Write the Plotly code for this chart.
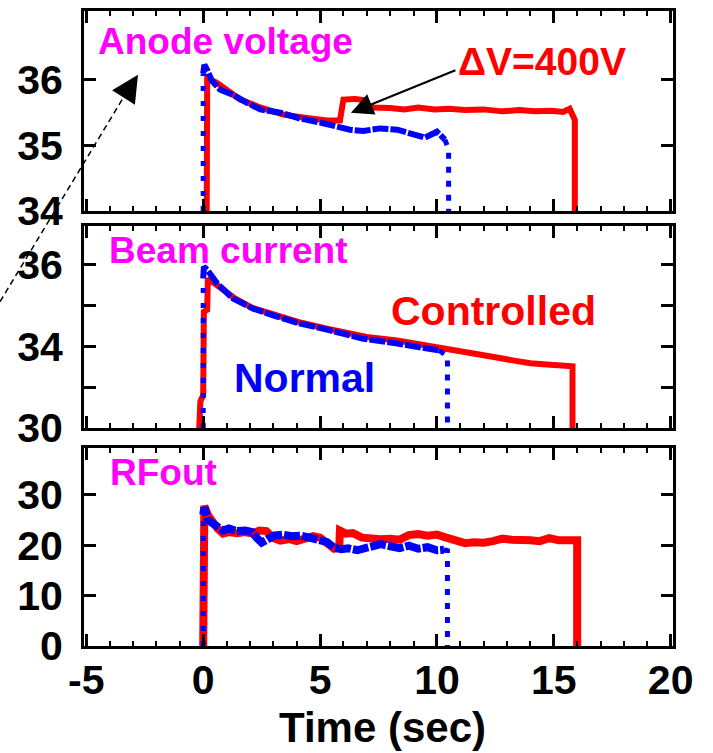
import plotly.graph_objects as go

# ---------------- data ----------------
# Panel 1: Anode voltage (kV)
anode_t_ctrl = [0.15, 0.15, 0.17, 0.6, 1.15, 1.58, 2.44, 3.42, 4.44, 5.3, 5.85, 5.95, 6.0, 6.5, 6.9,
                7.0, 7.3, 8.0, 8.6, 9.2, 9.9, 10.5, 11.2, 12.0, 12.8, 13.5, 14.2, 14.9, 15.4, 15.68, 15.9, 15.9]
anode_v_ctrl = [34.0, 35.9, 36.03, 35.95, 35.8, 35.7, 35.58, 35.47, 35.42, 35.38, 35.38, 35.55, 35.70, 35.71, 35.69,
                35.6, 35.58, 35.57, 35.55, 35.58, 35.55, 35.56, 35.54, 35.55, 35.52, 35.54, 35.52, 35.53, 35.51, 35.56, 35.39, 34.0]
anode_t_norm = [0.0, 0.0, 0.05, 0.17, 0.38, 0.73, 1.28, 1.88, 2.44, 3.3, 4.15, 5.0, 5.56, 6.28, 6.85,
                7.56, 8.3, 8.97, 9.49, 10.0, 10.34, 10.5, 10.5]
anode_v_norm = [34.0, 36.1, 36.23, 36.15, 35.98, 35.85, 35.77, 35.65, 35.55, 35.5, 35.41, 35.35, 35.30, 35.24, 35.22,
                35.26, 35.24, 35.17, 35.12, 35.21, 35.09, 34.94, 34.0]

# Panel 2: Beam current
beam_t_ctrl = [-0.17, -0.12, 0.0, 0.03, 0.17, 0.2, 0.6, 1.3, 2.1, 3.2, 4.2, 5.3, 6.3, 7.0, 8.3, 9.3,
               10.1, 11.0, 11.8, 12.5, 13.3, 14.0, 14.7, 15.3, 15.8, 15.8]
beam_v_ctrl = [30.0, 30.99, 31.2, 34.28, 34.35, 35.49, 35.25, 34.8, 34.42, 34.12, 33.87, 33.65, 33.47, 33.35, 33.22, 33.06,
               32.93, 32.82, 32.71, 32.6, 32.48, 32.38, 32.34, 32.32, 32.27, 30.0]
beam_t_norm = [0.0, 0.0, 0.03, 0.17, 0.6, 1.28, 2.14, 3.16, 4.15, 5.3, 6.28, 6.8, 8.3, 9.3, 10.1, 10.45, 10.45]
beam_v_norm = [30.0, 35.5, 35.93, 35.82, 35.31, 34.76, 34.39, 34.10, 33.84, 33.62, 33.44, 33.29, 33.11, 32.98, 32.85, 32.63, 30.0]

# Panel 3: RF output
rf_t_ctrl = [0.0, 0.0, 0.05, 0.2, 0.43, 0.6, 0.85, 1.1, 1.45, 1.8, 2.1, 2.4, 2.7, 3.0, 3.3, 3.7, 4.0, 4.4, 4.7,
             5.0, 5.3, 5.6, 5.82, 5.85, 6.1, 6.4, 6.8, 7.2, 7.6, 8.0, 8.4, 8.8, 9.2, 9.6, 10.0, 10.4, 10.8, 11.2,
             11.6, 12.0, 12.4, 12.8, 13.2, 13.6, 14.0, 14.4, 14.8, 15.2, 15.6, 16.0, 16.0]
rf_v_ctrl = [0.0, 26.5, 27.8, 26.0, 24.2, 23.4, 22.3, 22.6, 22.4, 22.6, 22.3, 22.9, 22.8, 21.4, 20.9, 21.2, 20.8, 21.3, 21.8,
             21.5, 20.4, 19.3, 19.5, 22.9, 22.3, 22.4, 21.5, 21.3, 21.2, 21.3, 21.1, 22.0, 22.2, 21.9, 22.1, 21.5, 20.8, 20.4,
             20.6, 20.5, 20.8, 21.3, 21.1, 21.2, 21.0, 20.8, 21.4, 21.0, 21.1, 21.0, 0.0]
rf_t_norm = [0.0, 0.0, 0.05, 0.2, 0.43, 0.6, 0.85, 1.1, 1.45, 1.8, 2.1, 2.3, 2.5, 2.7, 3.0, 3.4, 3.8, 4.2, 4.6,
             5.0, 5.3, 5.6, 5.9, 6.2, 6.6, 7.0, 7.3, 7.6, 8.0, 8.4, 8.8, 9.2, 9.6, 10.0, 10.3, 10.45, 10.45]
rf_v_norm = [0.0, 26.0, 27.5, 25.0, 24.4, 23.6, 22.9, 23.3, 22.8, 22.9, 22.6, 21.4, 20.5, 21.0, 21.9, 22.1, 21.8, 21.9, 21.4,
             20.9, 20.6, 19.5, 19.2, 19.4, 19.0, 19.5, 19.9, 20.2, 19.8, 19.4, 19.9, 19.3, 19.6, 19.0, 19.1, 18.9, 0.0]

x_tickvals = [-5, 0, 5, 10, 15, 20]
x_ticktext = ["-5", "0", "5", "10", "15", "20"]
anode_ticks = [34, 35, 36]
beam_tickvals = [30, 31.5, 33, 34.5, 36]
beam_ticktext = ["30", "", "34", "", "36"]
rf_ticks = [0, 10, 20, 30]

RED = "#FF0000"
BLUE = "#0000FF"
MAG = "#FF00FF"
FONT = "Liberation Sans, Arial, sans-serif"

fig = go.Figure()

panels = [
    ("x", "y", anode_t_ctrl, anode_v_ctrl, anode_t_norm, anode_v_norm, 6),
    ("x2", "y2", beam_t_ctrl, beam_v_ctrl, beam_t_norm, beam_v_norm, 6),
    ("x3", "y3", rf_t_ctrl, rf_v_ctrl, rf_t_norm, rf_v_norm, 8),
]
for xa, ya, tc, vc, tn, vn, w in panels:
    fig.add_trace(go.Scatter(x=tc, y=vc, mode="lines", xaxis=xa, yaxis=ya,
                             line=dict(color=RED, width=w), showlegend=False))
    # blue: dotted rise, near-solid body, dotted drop
    fig.add_trace(go.Scatter(x=tn[:2], y=vn[:2], mode="lines", xaxis=xa, yaxis=ya,
                             line=dict(color=BLUE, width=5, dash="5px,10px"), showlegend=False))
    fig.add_trace(go.Scatter(x=tn[1:-2], y=vn[1:-2], mode="lines", xaxis=xa, yaxis=ya,
                             line=dict(color=BLUE, width=w, dash="16px,2px"), showlegend=False))
    fig.add_trace(go.Scatter(x=tn[-3:], y=vn[-3:], mode="lines", xaxis=xa, yaxis=ya,
                             line=dict(color=BLUE, width=5, dash="6px,8px"), showlegend=False))

tickfont = dict(family=FONT, size=41, color="black", weight="bold")

def xax(show):
    return dict(range=[-5.1, 20.1], tickvals=x_tickvals, ticktext=x_ticktext, ticks="inside",
                ticklen=12, tickwidth=3, tickcolor="black", showline=True, linewidth=3,
                linecolor="black", mirror="ticks", showgrid=False, zeroline=False,
                showticklabels=show, tickfont=tickfont, ticklabelstandoff=-4,
                minor=dict(dtick=1, tick0=0, ticks="inside", ticklen=5, tickwidth=2, tickcolor="black"))

def yax(rng, dom, tv, tt=None):
    d = dict(range=rng, domain=dom, tickvals=tv, ticks="inside", ticklen=12, tickwidth=3,
             tickcolor="black", showline=True, linewidth=3, linecolor="black", mirror="ticks",
             showgrid=False, zeroline=False, tickfont=tickfont, ticklabelstandoff=10)
    if tt is not None:
        d["ticktext"] = tt
    return d

H_TOP, H_BOT = 8, 646
def ypaper(px):
    return (H_BOT - px) / (H_BOT - H_TOP)
def xpaper(px):
    return (px - 84) / (673 - 84)

fig.update_layout(
    width=713, height=753,
    margin=dict(l=84, r=40, t=8, b=107),
    paper_bgcolor="white", plot_bgcolor="white",
    xaxis=xax(False), xaxis2=xax(False), xaxis3=xax(True),
    yaxis=yax([34, 37.05], [ypaper(209), 1.0], anode_ticks),
    yaxis2=yax([30, 37.43], [ypaper(427), ypaper(224)], beam_tickvals, beam_ticktext),
    yaxis3=yax([0, 39.3], [0.0, ypaper(447)], rf_ticks),
)
fig.update_layout(xaxis=dict(anchor="y"), xaxis2=dict(anchor="y2"), xaxis3=dict(anchor="y3"),
                  yaxis=dict(anchor="x"), yaxis2=dict(anchor="x2"), yaxis3=dict(anchor="x3"))

def txt(s, xpx, ypx, color, size):
    fig.add_annotation(text=s, x=xpaper(xpx), y=ypaper(ypx), xref="paper", yref="paper",
                       xanchor="center", yanchor="middle", showarrow=False,
                       font=dict(family=FONT, size=size, color=color, weight="bold"))

txt("Anode voltage", 225, 39, MAG, 37)
txt("Beam current", 228, 249, MAG, 37)
txt("RFout", 163, 472, MAG, 37)
txt("ΔV=400V", 542, 59, RED, 39)
txt("Controlled", 493, 309, RED, 41)
txt("Normal", 304, 377, BLUE, 41)
txt("Time (sec)", 382, 728, "black", 42)

# Arrow pointing to the voltage step
fig.add_annotation(x=6.32, y=35.5, xref="x", yref="y", ax=106, ay=-43, axref="pixel", ayref="pixel",
                   text="", showarrow=True, arrowhead=2, arrowsize=2.2, arrowwidth=2, arrowcolor="black")

# Dashed arrow from the left
fig.add_shape(type="line", xref="paper", yref="paper",
              x0=xpaper(0), y0=ypaper(300), x1=xpaper(130), y1=ypaper(84),
              line=dict(color="black", width=1.5, dash="6px,4px"))
fig.add_annotation(x=xpaper(138), y=ypaper(72), xref="paper", yref="paper", ax=-14, ay=22,
                   text="", showarrow=True, arrowhead=2, arrowsize=3.6, arrowwidth=1.5, arrowcolor="black")

fig.write_html("out.html")
